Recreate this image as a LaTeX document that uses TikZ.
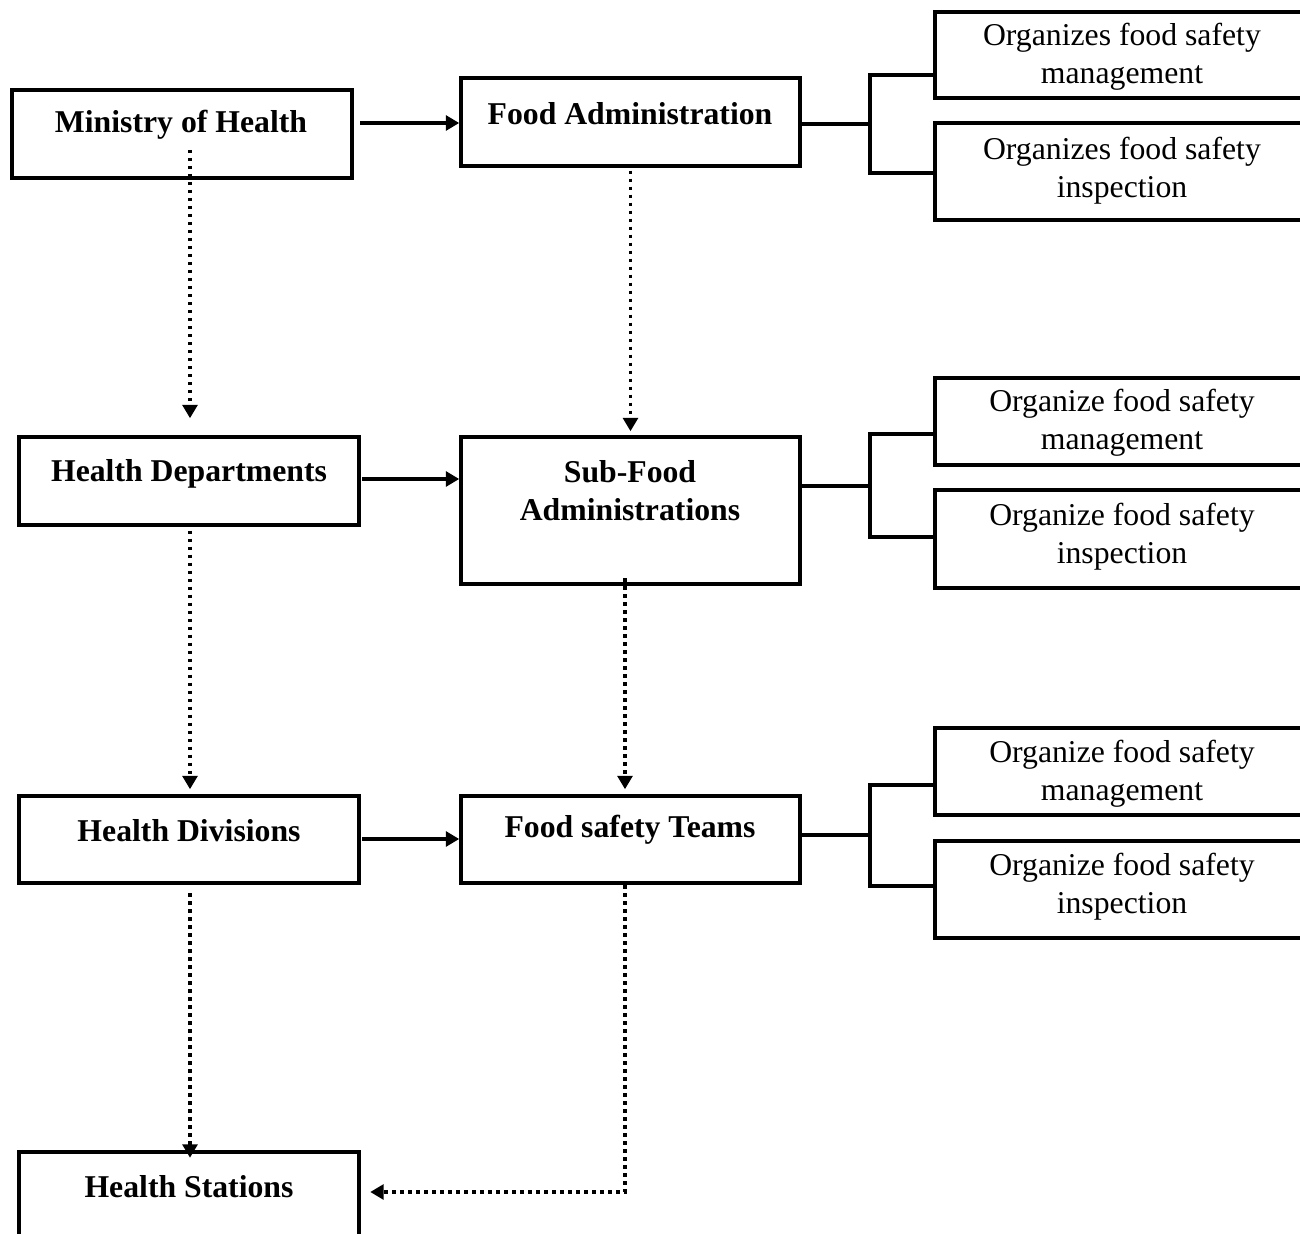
\documentclass[tikz,border=0pt]{standalone}
\usepackage{fontspec}
\setmainfont{Liberation Serif}
\usetikzlibrary{arrows.meta}
\begin{document}
\begin{tikzpicture}[x=0.75pt,y=-0.75pt,
  box/.style 2 args={draw, line width=2.6pt, inner sep=0pt, outer sep=1.3pt,
    minimum width=#1*0.75pt, minimum height=#2*0.75pt},
  btxt/.style={font=\fontsize{23.8}{28.5}\selectfont\bfseries, align=center, inner sep=0pt},
  rtxt/.style={font=\fontsize{23.8}{28.5}\selectfont, align=center, inner sep=0pt},
  ln/.style={line width=2.6pt},
  arr/.style={line width=2.6pt, -{Triangle[length=10pt,width=11pt]}},
  dotarr/.style={arr, dash pattern=on 2.6pt off 3.4pt}]
\useasboundingbox (0,0) rectangle (1300,1234);
\clip (0,0) rectangle (1300,1234);
% left column
\node[box={340}{88}] (moh) at (182,134) {};
\node[box={340}{88}] (hd) at (189,481) {};
\node[box={340}{87}] (hdiv) at (189,839.5) {};
\node[box={340}{108}] (hs) at (189,1206) {};
% middle column
\node[box={339}{88}] (fa) at (630.5,122) {};
\node[box={339}{147}] (sfa) at (630.5,510.5) {};
\node[box={339}{87}] (fst) at (630.5,839.5) {};
% right column
\node[box={374}{86}] (r1a) at (1122,55) {};
\node[box={374}{97}] (r1b) at (1122,171.5) {};
\node[box={374}{87}] (r2a) at (1122,421.5) {};
\node[box={374}{98}] (r2b) at (1122,539) {};
\node[box={374}{87}] (r3a) at (1122,771.5) {};
\node[box={374}{97}] (r3b) at (1122,889.5) {};
% texts
\node[btxt] (tmoh) at (181,125) {Ministry of Health};
\node[btxt] (thd) at (189,474) {Health Departments};
\node[btxt] (thdiv) at (189,831) {Health Divisions};
\node[btxt] (ths) at (189,1187) {Health Stations};
\node[btxt] (tfa) at (630,114) {Food Administration};
\node[btxt] (tsfa) at (630,491) {Sub-Food\\Administrations};
\node[btxt] (tfst) at (630,830) {Food safety Teams};
\node[rtxt] (tr1a) at (1122,57) {Organizes food safety\\management};
\node[rtxt] (tr1b) at (1122,170.5) {Organizes food safety\\inspection};
\node[rtxt] (tr2a) at (1122,423) {Organize food safety\\management};
\node[rtxt] (tr2b) at (1122,537) {Organize food safety\\inspection};
\node[rtxt] (tr3a) at (1122,773.5) {Organize food safety\\management};
\node[rtxt] (tr3b) at (1122,887) {Organize food safety\\inspection};
% solid arrows
\draw[arr] ([shift={(6.5,-11)}]moh.east) -- ([shift={(0,1)}]fa.west);
\draw[arr] ([shift={(1.5,-2)}]hd.east) -- ([shift={(0,-31.5)}]sfa.west);
\draw[arr] ([shift={(1.5,-0.5)}]hdiv.east) -- ([shift={(0,-0.5)}]fst.west);
% dotted arrows
\draw[dotarr] ([shift={(8,16)}]moh.center) -- ([shift={(1,-17)}]hd.north);
\draw[dotarr] ([shift={(0,3)}]fa.south) -- ([shift={(0,-4)}]sfa.north);
\draw[dotarr] ([shift={(1,4)}]hd.south) -- ([shift={(1,-5)}]hdiv.north);
\draw[dotarr] ([shift={(-5.5,-7.5)}]sfa.south) -- ([shift={(-5.5,-5)}]fst.north);
\draw[dotarr] ([shift={(1,8.5)}]hdiv.south) -- ([shift={(1,7.5)}]hs.north);
\draw[dotarr] ([shift={(-5.5,0.5)}]fst.south) |- ([shift={(9.5,-14)}]hs.east);
% brackets
\draw[ln] ([shift={(0,2)}]fa.east) -- ++(68.5,0);
\draw[ln] ([shift={(0,20)}]r1a.west) -- ++(-63.5,0) |- ([shift={(0,1.5)}]r1b.west);
\draw[ln] ([shift={(0,-24.5)}]sfa.east) -- ++(68.5,0);
\draw[ln] ([shift={(0,12.5)}]r2a.west) -- ++(-63.5,0) |- ([shift={(0,-2)}]r2b.west);
\draw[ln] ([shift={(0,-4.5)}]fst.east) -- ++(68.5,0);
\draw[ln] ([shift={(0,13.5)}]r3a.west) -- ++(-63.5,0) |- ([shift={(0,-3.5)}]r3b.west);
\end{tikzpicture}
\end{document}
